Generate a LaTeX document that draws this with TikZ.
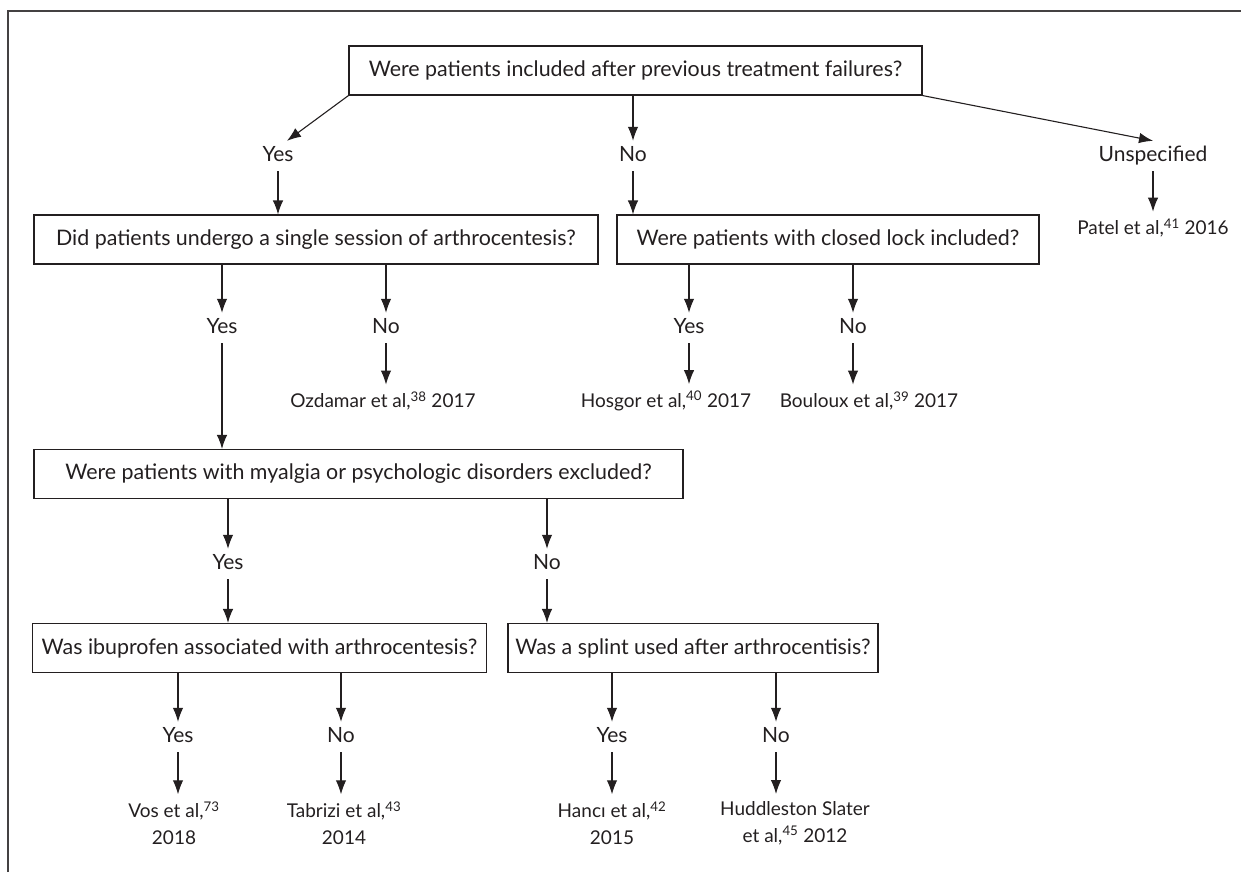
\documentclass[tikz,border=0pt]{standalone}
\usepackage{fontspec}
\setmainfont{Lato}
\usetikzlibrary{arrows.meta}
\definecolor{ink}{HTML}{231F20}

\begin{document}
\begin{tikzpicture}[x=1pt, y=-1pt,
    every node/.style={text=ink, font=\fontsize{21.4}{27}\selectfont},
    qbox/.style={draw=ink, line width=1.1pt, minimum height=49pt, inner sep=0pt},
    lbl/.style={inner sep=6pt, text height=14pt, text depth=4pt, font=\fontsize{21}{27}\selectfont},
    leaf/.style={inner sep=7pt, align=center, font=\fontsize{19}{27}\selectfont},
    arr/.style={draw=ink, line width=1.1pt, -{Latex[length=14pt,width=10.5pt]}}]
  \useasboundingbox (0,0) rectangle (1241,872);
  \draw[ink!85, line width=1.3pt] (8,872) -- (8,11) -- (1241,11);

  % questions
  \node[qbox, minimum width=573pt] (q1) at (635.5,70.5) {Were patients included after previous treatment failures?};
  \node[qbox, minimum width=564pt] (q2) at (316,239.5) {Did patients undergo a single session of arthrocentesis?};
  \node[qbox, minimum width=422pt] (q3) at (828,239.5) {Were patients with closed lock included?};
  \node[qbox, minimum width=649pt] (q4) at (358.5,474) {Were patients with myalgia or psychologic disorders excluded?};
  \node[qbox, minimum width=454pt] (q5) at (259.5,648) {Was ibuprofen associated with arthrocentesis?};
  \node[qbox, minimum width=370pt] (q6) at (693,648) {Was a splint used after arthrocentisis?};

  % answers
  \node[lbl] (y1) at (278,156) {Yes};
  \node[lbl] (n1) at (633,156) {No};
  \node[lbl] (u1) at (1153,156) {Unspecified};
  \node[lbl] (y2) at (222,328) {Yes};
  \node[lbl] (n2) at (386,328) {No};
  \node[lbl] (y3) at (689,328) {Yes};
  \node[lbl] (n3) at (853,328) {No};
  \node[lbl] (y4) at (228,564) {Yes};
  \node[lbl] (n4) at (547,564) {No};
  \node[lbl] (y5) at (178,737) {Yes};
  \node[lbl] (n5) at (341,737) {No};
  \node[lbl] (y6) at (612,737) {Yes};
  \node[lbl] (n6) at (776,737) {No};

  % studies
  \node[leaf] (p1) at (1153,228) {Patel et al,\textsuperscript{41} 2016};
  \node[leaf] (s1) at (383,401) {Ozdamar et al,\textsuperscript{38} 2017};
  \node[leaf] (s2) at (666,401) {Hosgor et al,\textsuperscript{40} 2017};
  \node[leaf] (s3) at (869,401) {Bouloux et al,\textsuperscript{39} 2017};
  \node[leaf] (s4) at (174,823) {Vos et al,\textsuperscript{73}\\2018};
  \node[leaf] (s5) at (344,823) {Tabrizi et al,\textsuperscript{43}\\2014};
  \node[leaf] (s6) at (612,823) {Hancı et al,\textsuperscript{42}\\2015};
  \node[leaf] (s7) at (795,823) {Huddleston Slater\\et al,\textsuperscript{45} 2012};

  \draw[arr] (q1.south west) -- ([xshift=9pt]y1.north);
  \draw[arr] (n1 |- q1.south) -- (n1);
  \draw[arr] (q1.south east) -- (u1.north);
  \draw[arr] (y1) -- (y1 |- q2.north);
  \draw[arr] (n1) -- (n1 |- q3.north);
  \draw[arr] (u1) -- (p1);
  \draw[arr] (y2 |- q2.south) -- (y2);
  \draw[arr] (n2 |- q2.south) -- (n2);
  \draw[arr] (n2) -- (n2 |- s1.north);
  \draw[arr] (y2) -- (y2 |- q4.north);
  \draw[arr] (y3 |- q3.south) -- (y3);
  \draw[arr] (n3 |- q3.south) -- (n3);
  \draw[arr] (y3) -- (y3 |- s2.north);
  \draw[arr] (n3) -- (n3 |- s3.north);
  \draw[arr] (y4 |- q4.south) -- (y4);
  \draw[arr] (n4 |- q4.south) -- (n4);
  \draw[arr] (y4) -- (y4 |- q5.north);
  \draw[arr] (n4) -- (n4 |- q6.north);
  \draw[arr] (y5 |- q5.south) -- (y5);
  \draw[arr] (n5 |- q5.south) -- (n5);
  \draw[arr] (y6 |- q6.south) -- (y6);
  \draw[arr] (n6 |- q6.south) -- (n6);
  \draw[arr] (y5) -- (y5 |- s4.north);
  \draw[arr] (n5) -- (n5 |- s5.north);
  \draw[arr] (y6) -- (y6 |- s6.north);
  \draw[arr] (n6) -- (n6 |- s7.north);
\end{tikzpicture}
\end{document}
